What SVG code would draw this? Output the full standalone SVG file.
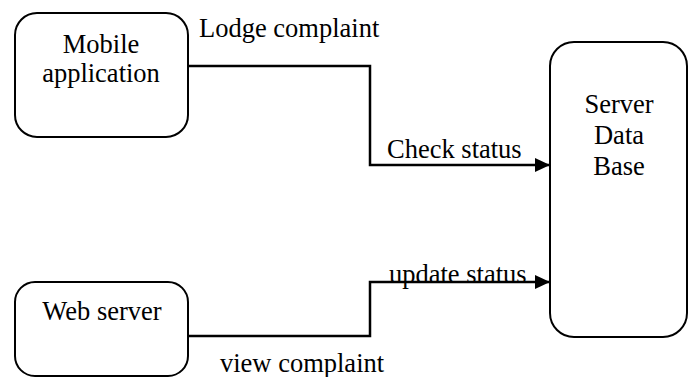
<svg xmlns="http://www.w3.org/2000/svg" width="691" height="377" viewBox="0 0 691 377">
<style>
.box{fill:#fff;stroke:#000;stroke-width:2}
.t{font-family:"Liberation Serif","Times New Roman",serif;font-size:26.5px;fill:#000}
.c{text-anchor:middle}
.ln{fill:none;stroke:#000;stroke-width:2.5}
</style>
<defs>
<marker id="ah" markerUnits="userSpaceOnUse" markerWidth="16" markerHeight="16" refX="15" refY="7" orient="auto">
<path d="M0,0 L15,7 L0,14 Z" fill="#000"/>
</marker>
</defs>
<rect width="691" height="377" fill="#fff"/>
<g id="connectors">
<polyline class="ln" points="188,66 370,66 370,165 550,165" marker-end="url(#ah)"/>
<polyline class="ln" points="188,336 370,336 370,282 550,282" marker-end="url(#ah)"/>
<text class="t" x="199" y="37">Lodge complaint</text>
<text class="t" x="387" y="158">Check status</text>
<text class="t" x="389" y="283">update status</text>
<text class="t" x="220" y="372">view complaint</text>
</g>
<g id="mobile">
<rect class="box" x="15" y="13" width="173" height="124" rx="22"/>
<text class="t c" x="101" y="53">Mobile</text>
<text class="t c" x="101" y="82">application</text>
</g>
<g id="web">
<rect class="box" x="15" y="282" width="173" height="94" rx="20"/>
<text class="t c" x="102" y="320">Web server</text>
</g>
<g id="server">
<rect class="box" x="550" y="42" width="137" height="295" rx="24"/>
<text class="t c" x="619" y="113">Server</text>
<text class="t c" x="619" y="144">Data</text>
<text class="t c" x="619" y="175">Base</text>
</g>
</svg>
